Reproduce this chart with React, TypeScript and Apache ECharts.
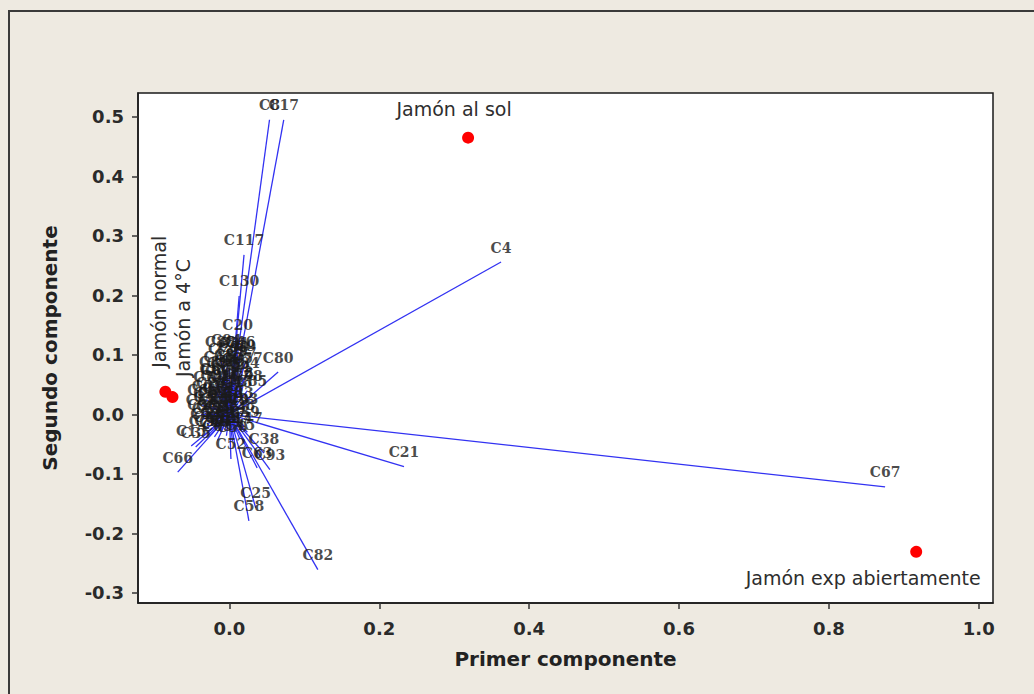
import React, { useEffect, useRef } from "react";
import * as echarts from "echarts";

// Loadings (variable vectors)
const loadingNames = [
  "C8", "C17", "C117", "C130", "C20", "C4", "C80", "C21", "C67", "C82",
  "C25", "C58", "C66", "C15", "C35", "C52", "C38", "C63", "C93", "C85",
  "C88", "C94", "C31", "C46", "C9", "C70", "C29", "C77", "C57", "C41",
  "C36", "C6", "C60", "C44", "C2", "C78", "C10", "C48",
  "C3", "C11", "C12", "C13", "C14", "C16", "C18", "C19", "C22", "C23",
  "C24", "C26", "C27", "C28", "C30", "C32", "C33", "C34", "C37", "C39",
  "C40", "C42", "C43", "C45", "C47", "C49", "C50",
  "C51", "C53", "C54", "C55", "C56", "C59", "C61", "C62", "C64", "C65",
  "C68", "C69", "C71", "C72", "C73", "C74", "C75", "C76", "C79", "C81",
  "C83", "C84", "C86", "C87", "C89", "C90",
];
const loadingX = [
  0.0535, 0.0725, 0.0195, 0.013, 0.011, 0.3625, 0.065, 0.233, 0.875, 0.118,
  0.035, 0.026, -0.069, -0.051, -0.045, 0.002, 0.046, 0.037, 0.054, 0.03,
  -0.012, -0.004, 0.006, 0.014, 0.022, -0.008, 0.004, 0.016, 0.024, -0.014,
  0.0, -0.026, -0.018, 0.008, 0.018, 0.024, -0.006, 0.01,
  -0.034, -0.028, -0.022, -0.03, -0.016, -0.01, -0.002, 0.006, -0.018, 0.012,
  -0.024, -0.008, 0.002, 0.014, -0.036, -0.012, 0.018, -0.004, 0.008, 0.02,
  -0.02, 0.0, -0.028, 0.014, 0.024, -0.01, 0.004,
  -0.038, -0.032, -0.026, -0.02, -0.014, -0.006, -0.036, -0.03, -0.022, -0.016,
  -0.008, -0.002, 0.004, -0.024, -0.012, -0.028, -0.004, 0.012, -0.034, -0.018,
  0.0, 0.02, -0.01, 0.01, -0.02, 0.006,
];
const loadingY = [
  0.495, 0.495, 0.268, 0.199, 0.125, 0.256, 0.071, -0.088, -0.122, -0.261,
  -0.157, -0.179, -0.097, -0.053, -0.055, -0.075, -0.065, -0.09, -0.093, 0.031,
  0.097, 0.1, 0.096, 0.098, 0.09, 0.086, 0.082, 0.078, 0.07, 0.072,
  0.066, 0.052, 0.05, 0.056, 0.046, 0.04, 0.04, 0.03,
  0.004, 0.012, -0.004, -0.016, 0.02, 0.006, 0.014, 0.0, -0.02, 0.012,
  0.028, -0.012, -0.022, -0.008, -0.008, -0.03, 0.002, -0.036, -0.03, -0.02,
  -0.038, 0.03, -0.028, -0.042, -0.03, 0.036, -0.045,
  0.0, -0.024, -0.036, 0.002, -0.014, -0.026, 0.016, 0.024, 0.012, -0.044,
  0.024, 0.004, -0.012, -0.01, 0.048, 0.038, 0.058, 0.044, -0.036, 0.04,
  0.076, 0.062, 0.062, 0.068, 0.064, 0.088,
];

// Scores (observations)
const scoreNames = ["Jamón al sol", "Jamón exp abiertamente", "Jamón normal", "Jamón a 4°C"];
const scoreX = [0.3185, 0.9165, -0.0855, -0.076];
const scoreY = [0.465, -0.231, 0.038, 0.029];

const xTicks = [0, 0.2, 0.4, 0.6, 0.8, 1.0];
const yTicks = [-0.3, -0.2, -0.1, 0, 0.1, 0.2, 0.3, 0.4, 0.5];

const scoreLabelLayout = [
  { rotate: 0, offset: [-14, -29] },
  { rotate: 0, offset: [-53, 26] },
  { rotate: 90, offset: [90, -6] },
  { rotate: 90, offset: [79, 11] },
];

export default function App() {
  const ref = useRef<HTMLDivElement>(null);
  useEffect(() => {
    if (!ref.current) return;
    const chart = echarts.init(ref.current, undefined, { renderer: "svg" });
    const loadings = loadingNames.map((n, i) => [loadingX[i], loadingY[i], n]);
    const scores = scoreNames.map((n, i) => ({
      value: [scoreX[i], scoreY[i]],
      name: n,
      label: {
        show: true,
        position: "inside",
        rotate: scoreLabelLayout[i].rotate,
        offset: scoreLabelLayout[i].offset,
        formatter: n,
        fontFamily: "DejaVu Sans",
        fontSize: 19,
        color: "#2e2e2e",
      },
    }));
    const tickLabel = {
      fontFamily: "DejaVu Sans",
      fontWeight: "bold",
      fontSize: 18,
      color: "#2a2a2a",
    };
    const nameStyle = {
      fontFamily: "DejaVu Sans",
      fontWeight: "bold",
      fontSize: 20,
      color: "#222",
    };
    chart.setOption({
      animation: false,
      backgroundColor: "#EEEAE1",
      graphic: [
        {
          type: "rect",
          silent: true,
          z: 100,
          shape: { x: 9, y: 11, width: 1100, height: 800 },
          style: { fill: "none", stroke: "#3a3a3a", lineWidth: 2 },
        },
      ],
      grid: {
        left: 138,
        top: 93,
        width: 855,
        height: 510,
        show: true,
        backgroundColor: "#ffffff",
        borderColor: "#1a1a1a",
        borderWidth: 1.5,
      },
      xAxis: {
        type: "value",
        min: -0.122,
        max: 1.019,
        name: "Primer componente",
        nameLocation: "middle",
        nameGap: 46,
        nameTextStyle: nameStyle,
        splitLine: { show: false },
        axisLine: { show: true, onZero: false, lineStyle: { color: "#1a1a1a", width: 1.5 } },
        axisTick: { show: true, customValues: xTicks, length: 6, lineStyle: { color: "#333", width: 1.5 } },
        axisLabel: { customValues: xTicks, formatter: (v: number) => v.toFixed(1), margin: 16, ...tickLabel },
      },
      yAxis: {
        type: "value",
        min: -0.317,
        max: 0.54,
        name: "Segundo componente",
        nameLocation: "middle",
        nameGap: 78,
        nameTextStyle: nameStyle,
        splitLine: { show: false },
        axisLine: { show: true, onZero: false, lineStyle: { color: "#1a1a1a", width: 1.5 } },
        axisTick: { show: true, customValues: yTicks, length: 6, lineStyle: { color: "#333", width: 1.5 } },
        axisLabel: { customValues: yTicks, formatter: (v: number) => v.toFixed(1), margin: 14, ...tickLabel },
      },
      series: [
        {
          type: "custom",
          z: 2,
          data: loadings,
          renderItem: (params: any, api: any) => {
            const p0 = api.coord([0, 0]);
            const p1 = api.coord([api.value(0), api.value(1)]);
            return {
              type: "line",
              shape: { x1: p0[0], y1: p0[1], x2: p1[0], y2: p1[1] },
              style: { stroke: "#3232f2", lineWidth: 1.3 },
            };
          },
        },
        {
          type: "scatter",
          z: 3,
          data: loadings,
          symbolSize: 1,
          itemStyle: { color: "transparent" },
          label: {
            show: true,
            position: "top",
            distance: 7,
            formatter: (p: any) => p.data[2],
            fontFamily: "DejaVu Serif",
            fontWeight: "bold",
            fontSize: 14,
            color: "#1a1a1a",
          },
        },
        {
          type: "scatter",
          z: 4,
          data: scores,
          symbolSize: 12,
          itemStyle: { color: "#ff0000", opacity: 1 },
        },
      ],
    });
    return () => chart.dispose();
  }, []);
  return (
    <div
      ref={ref}
      style={{ position: "fixed", left: 0, top: 0, width: 1034, height: 694 }}
    />
  );
}
